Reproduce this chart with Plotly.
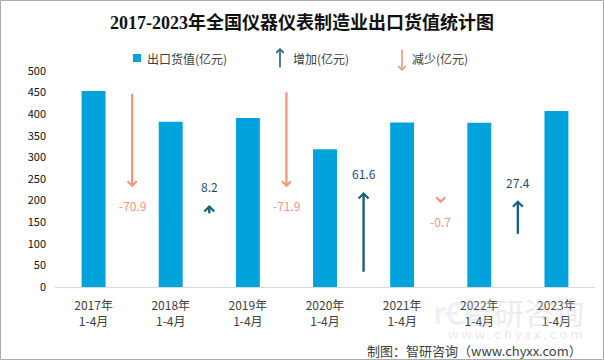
import plotly.graph_objects as go

# ---- data ----
categories = ["2017年<br>1-4月", "2018年<br>1-4月", "2019年<br>1-4月", "2020年<br>1-4月",
              "2021年<br>1-4月", "2022年<br>1-4月", "2023年<br>1-4月"]
export_value = [453.7, 382.8, 391.0, 319.1, 380.7, 380.0, 407.4]   # 出口货值(亿元)
change = [-70.9, 8.2, -71.9, 61.6, -0.7, 27.4]                      # 增减(亿元)
arrow_from = [451, 167, 454, 32, 206, 120]    # arrow tail (value units)
arrow_to = [231, 190, 231, 220, 194, 201]     # arrow tip (value units)
y_ticks = [0, 50, 100, 150, 200, 250, 300, 350, 400, 450, 500]

# ---- style ----
BAR = "#00A2DB"
UP = "#1B5F7E"
DOWN = "#F2957E"
TXT = "#404040"
FONT = "Noto Sans CJK SC, sans-serif"

L, R, T, B = 55, 9, 71, 73
W, H = 604, 360
PW, PH = W - L - R, H - T - B

def px(x):
    return (x - L) / PW

def py(y):
    return (H - B - y) / PH

fig = go.Figure()
fig.add_trace(go.Bar(
    x=list(range(len(categories))), y=export_value, width=0.31,
    marker=dict(color=BAR, line=dict(width=0)), showlegend=False,
    hoverinfo="y"))

annotations = []
for i, (c, a0, a1) in enumerate(zip(change, arrow_from, arrow_to)):
    up = c > 0
    col = UP if up else DOWN
    annotations.append(dict(
        x=i + 0.5, y=a1, ax=i + 0.5, ay=a0, xref="x", yref="y", axref="x", ayref="y",
        showarrow=True, arrowhead=4, arrowsize=0.8, arrowwidth=2.4 if up else 2.2,
        arrowcolor=col, text=""))
    label_y = a1 + 42 if up else a1 - 42
    annotations.append(dict(
        x=i + 0.5, y=label_y, xref="x", yref="y", showarrow=False,
        xanchor="center", yanchor="middle",
        text=f"{c:g}", font=dict(size=12, color="#1F4E79" if up else DOWN, family=FONT)))

def ptext(x, y, text, size, color, xanchor="center", family=FONT):
    return dict(x=px(x), y=py(y), xref="paper", yref="paper", showarrow=False,
                xanchor=xanchor, yanchor="middle", text=text,
                font=dict(size=size, color=color, family=family))

# watermark (drawn first so other text sits above)
annotations = [
    ptext(524, 311, "智研咨询", 30, "rgba(200,205,212,0.4)"),
    ptext(515, 333, "w w w . c h y x x . c o m", 13, "rgba(200,205,212,0.45)"),
    ptext(449, 311, "<b>rꞒ</b>", 30, "rgba(200,208,220,0.3)"),
] + annotations
# title
annotations.append(ptext(302, 23, "<b>2017-2023年全国仪器仪表制造业出口货值统计图</b>", 18, "#111111",
                         family="Liberation Serif, Noto Sans CJK SC, serif"))
# legend
annotations += [
    ptext(145, 58, "出口货值(亿元)", 12, TXT, "left"),
    dict(x=px(280), y=py(48), xref="paper", yref="paper", ax=0, ay=21, showarrow=True,
         arrowhead=4, arrowsize=0.9, arrowwidth=1.6, arrowcolor=UP, text=""),
    ptext(291, 58, "增加(亿元)", 12, TXT, "left"),
    dict(x=px(402), y=py(71), xref="paper", yref="paper", ax=0, ay=-23, showarrow=True,
         arrowhead=4, arrowsize=0.9, arrowwidth=1.6, arrowcolor=DOWN, text=""),
    ptext(410, 58, "减少(亿元)", 12, TXT, "left"),
]
# footer
annotations.append(ptext(584, 350, "制图：智研咨询（www.chyxx.com）", 13, TXT, "right"))

shapes = [
    dict(type="rect", xref="paper", yref="paper", x0=px(133), x1=px(141), y0=py(62), y1=py(54),
         fillcolor=BAR, line=dict(width=0)),
    dict(type="rect", xref="paper", yref="paper", x0=px(0.5), x1=px(603.5), y0=py(0.5), y1=py(359.5),
         fillcolor="rgba(0,0,0,0)", line=dict(color="#ABABAB", width=1)),
]

fig.update_layout(
    width=W, height=H, margin=dict(l=L, r=R, t=T, b=B),
    paper_bgcolor="white", plot_bgcolor="white",
    xaxis=dict(range=[-0.5, 6.5], tickmode="array", tickvals=list(range(len(categories))),
               ticktext=categories, showgrid=False, zeroline=False, showline=False,
               ticks="", ticklabelstandoff=10, tickfont=dict(size=12, color=TXT, family=FONT)),
    yaxis=dict(range=[0, 500], tickmode="array", tickvals=y_ticks, showgrid=False,
               zeroline=True, zerolinecolor="#D9D9D9", zerolinewidth=1, showline=False,
               ticks="", ticklabelstandoff=8, tickfont=dict(size=11, color="#111111", family=FONT)),
    annotations=annotations, shapes=shapes, bargap=0.69,
)

fig.write_html("out.html", config={"displayModeBar": False},
               post_script="document.body.style.margin='0';")
